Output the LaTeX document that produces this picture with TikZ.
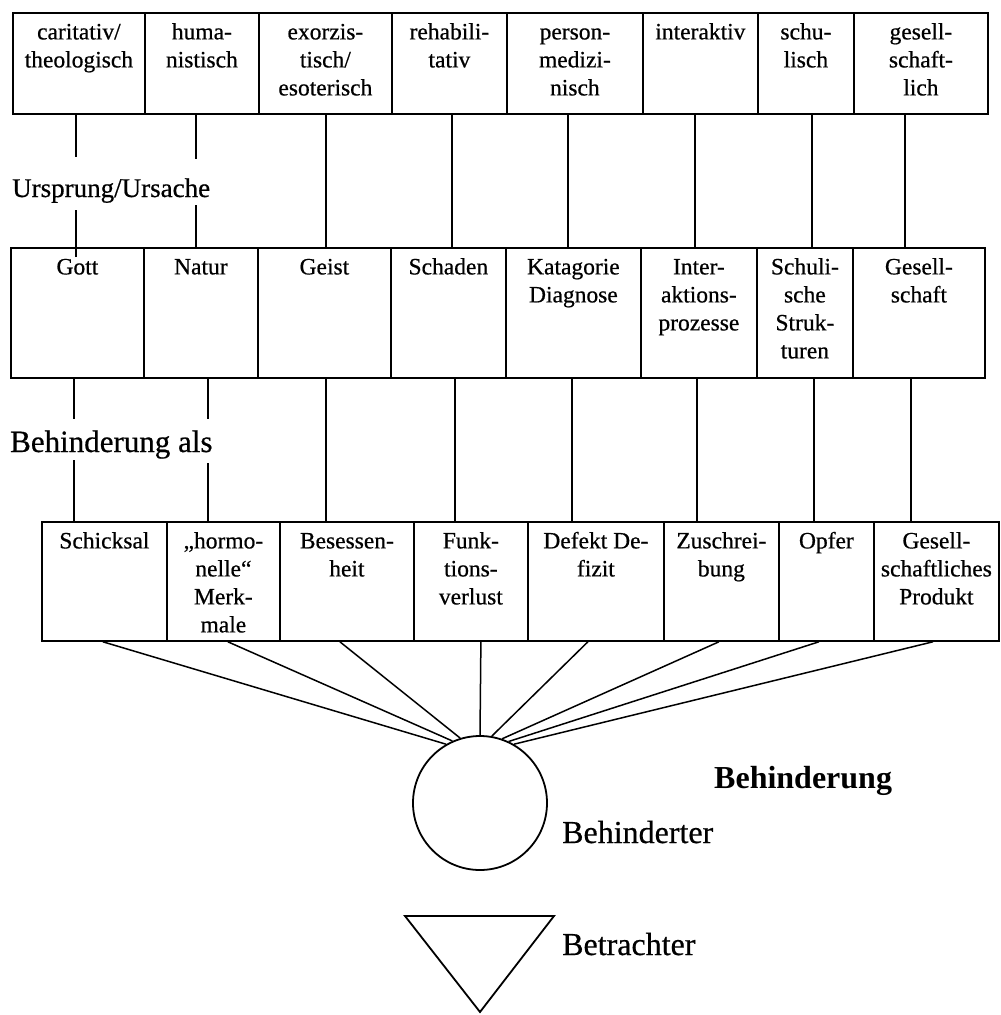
\documentclass[tikz,border=0pt]{standalone}
\usepackage{fontspec}
\setmainfont{Liberation Serif}[FakeBold=0.6]
\newfontface\headbold{Liberation Serif Bold}
% fixed-size cell: width, height, top-aligned centred lines
\newcommand\cellbody[3]{\parbox[c][#2pt][t]{#1pt}{\centering\rule{0pt}{26.5pt}#3\par}}
\begin{document}
\begin{tikzpicture}[x=1pt,y=-1pt,
  cell/.style={draw, line width=1.8pt, inner sep=0pt, anchor=north west,
    font=\fontsize{23.5}{28}\selectfont},
  link/.style={line width=1.5pt},
  caption/.style={inner sep=0pt, anchor=base west}]
\useasboundingbox (0,0) rectangle (1001,1015);

% first row: approaches
\node[cell] (a1) at (12,12)  {\cellbody{132}{101}{caritativ/\\theologisch}};
\node[cell] (a2) at (144,12) {\cellbody{114}{101}{huma-\\nistisch}};
\node[cell] (a3) at (258,12) {\cellbody{133}{101}{exorzis-\\tisch/\\esoterisch}};
\node[cell] (a4) at (391,12) {\cellbody{115}{101}{rehabili-\\tativ}};
\node[cell] (a5) at (506,12) {\cellbody{136}{101}{person-\\medizi-\\nisch}};
\node[cell] (a6) at (642,12) {\cellbody{115}{101}{interaktiv}};
\node[cell] (a7) at (757,12) {\cellbody{96}{101}{schu-\\lisch}};
\node[cell] (a8) at (853,12) {\cellbody{134}{101}{gesell-\\schaft-\\lich}};

% second row: origin / cause
\node[cell] (b1) at (10,247)  {\cellbody{133}{130}{Gott}};
\node[cell] (b2) at (143,247) {\cellbody{114}{130}{Natur}};
\node[cell] (b3) at (257,247) {\cellbody{133}{130}{Geist}};
\node[cell] (b4) at (390,247) {\cellbody{115}{130}{Schaden}};
\node[cell] (b5) at (505,247) {\cellbody{135}{130}{Katagorie\\Diagnose}};
\node[cell] (b6) at (640,247) {\cellbody{116}{130}{Inter-\\aktions-\\prozesse}};
\node[cell] (b7) at (756,247) {\cellbody{96}{130}{Schuli-\\sche\\Struk-\\turen}};
\node[cell] (b8) at (852,247) {\cellbody{132}{130}{Gesell-\\schaft}};

% third row: disability as ...
\node[cell] (c1) at (41,521)  {\cellbody{125}{119}{Schicksal}};
\node[cell] (c2) at (166,521) {\cellbody{113}{119}{„hormo-\\nelle“\\Merk-\\male}};
\node[cell] (c3) at (279,521) {\cellbody{134}{119}{Besessen-\\heit}};
\node[cell] (c4) at (413,521) {\cellbody{114}{119}{Funk-\\tions-\\verlust}};
\node[cell] (c5) at (527,521) {\cellbody{136}{119}{Defekt De-\\fizit}};
\node[cell] (c6) at (663,521) {\cellbody{115}{119}{Zuschrei-\\bung}};
\node[cell] (c7) at (778,521) {\cellbody{95}{119}{Opfer}};
\node[cell] (c8) at (873,521) {\cellbody{125}{119}{Gesell-\\schaftliches\\Produkt}};

% row labels
\node[caption, font=\fontsize{27}{32}\selectfont] (u) at (12,197) {Ursprung/Ursache};
\node[caption, font=\fontsize{31}{36}\selectfont] (ba) at (10,452) {Behinderung als};

% disabled person and observer
\node[draw, circle, line width=1.8pt, minimum size=134pt, inner sep=0pt] (p) at (480,803) {};
\coordinate (t1) at (405,916);
\coordinate (t2) at (554,916);
\coordinate (t3) at (480,1012);
\draw[line width=1.8pt, line join=miter] (t1) -- (t2) -- (t3) -- cycle;
\node[caption, font=\headbold\fontsize{32}{38}\selectfont] (bh) at (714,788) {Behinderung};
\node[caption, font=\fontsize{32}{38}\selectfont] (bt) at (562,843) {Behinderter};
\node[caption, font=\fontsize{32}{38}\selectfont] (bc) at (562,955) {Betrachter};

% connectors row 1 -> row 2 (first two interrupted by the label)
\draw[link] ([xshift=-3pt]a1.south) -- ++(0,42);
\draw[link] ([xshift=-3pt,yshift=-10pt]a1.south |- b1.north) -- ++(0,-47);
\draw[link] ([xshift=-6pt]a2.south) -- ++(0,44);
\draw[link] ([xshift=-6pt]a2.south |- b2.north) -- ++(0,-42);
\foreach \s/\a/\b in {0.5/a3/b3, 2.5/a4/b4, -7/a5/b5, -5.5/a6/b6, 6/a7/b7, -16/a8/b8}
  \draw[link] ([xshift=\s pt]\a.south) -- ([xshift=\s pt]\a.south |- \b.north);

% connectors row 2 -> row 3
\draw[link] ([xshift=-3.5pt]b1.south) -- ++(0,40);
\draw[link] ([xshift=-3.5pt]b1.south |- c1.north) -- ++(0,-61);
\draw[link] ([xshift=7pt]b2.south) -- ++(0,40);
\draw[link] ([xshift=7pt]b2.south |- c1.north) -- ++(0,-58);
\foreach \s/\a/\b in {1.5/b3/c3, 6.5/b4/c4, -1.5/b5/c5, -2/b6/c6, 9/b7/c7, -8/b8/c8}
  \draw[link] ([xshift=\s pt]\a.south) -- ([xshift=\s pt]\a.south |- \b.north);

% fan from row 3 to the person
\foreach \s/\a/\ang in {-1.5/c1/120, 4.5/c2/114, -7/c3/107, 10/c4/90,
                        -8/c5/80, -2.5/c6/71, -7.5/c7/65, -3.5/c8/60}
  \draw[link] ([xshift=\s pt]\a.south) -- (p.\ang);
\end{tikzpicture}
\end{document}
